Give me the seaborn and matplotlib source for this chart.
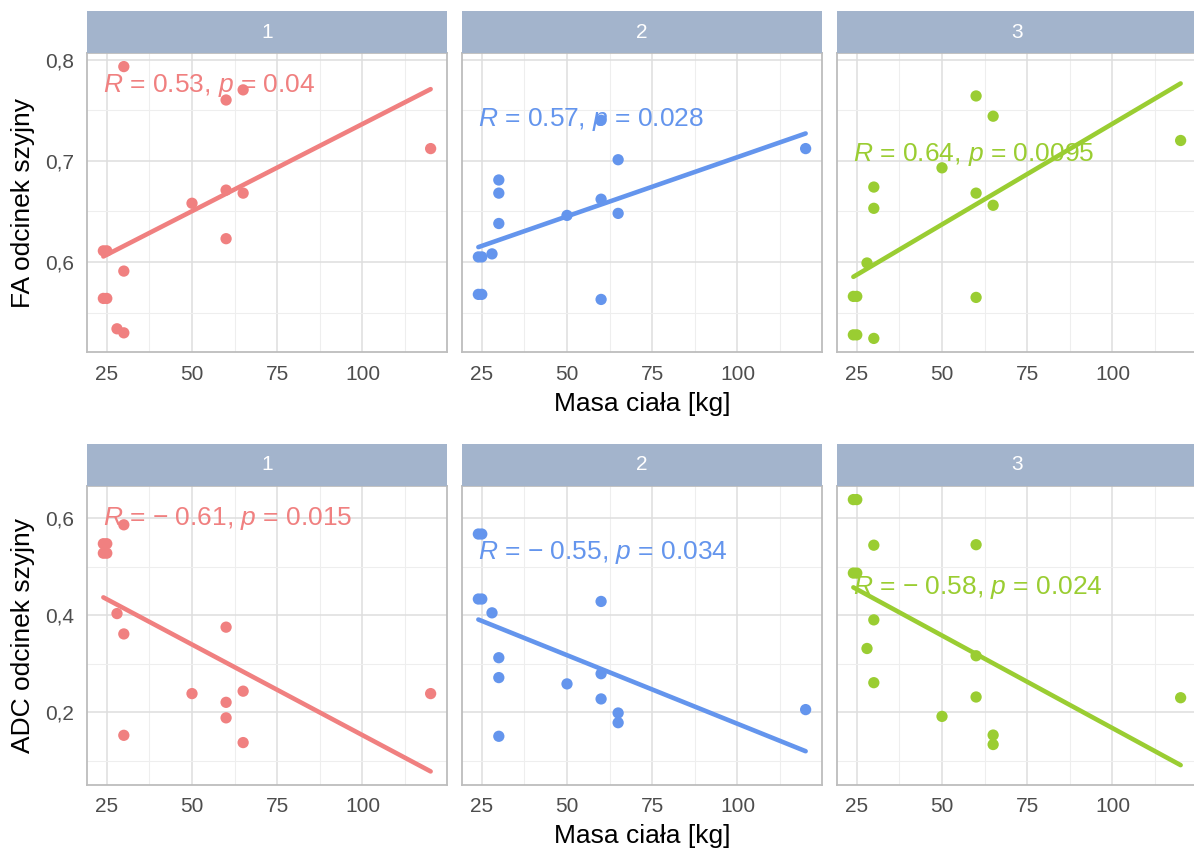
import numpy as np
import pandas as pd
import seaborn as sns
import matplotlib
matplotlib.use("Agg")
import matplotlib.pyplot as plt
from matplotlib.ticker import MultipleLocator, FuncFormatter
from matplotlib.transforms import blended_transform_factory

# body mass of the 15 subjects (same order in every panel)
mass = [24, 25, 24, 25, 28, 30, 30, 30, 50, 60, 60, 60, 65, 65, 120]
segments = ["1", "2", "3"]

fa_1 = [0.611, 0.611, 0.564, 0.564, 0.534, 0.793, 0.591, 0.530, 0.658, 0.760, 0.671, 0.623, 0.770, 0.668, 0.712]
fa_2 = [0.605, 0.605, 0.568, 0.568, 0.608, 0.681, 0.668, 0.638, 0.646, 0.740, 0.662, 0.563, 0.701, 0.648, 0.712]
fa_3 = [0.566, 0.566, 0.528, 0.528, 0.599, 0.674, 0.653, 0.5245, 0.693, 0.764, 0.668, 0.565, 0.744, 0.656, 0.720]

adc_1 = [0.547, 0.547, 0.5275, 0.5275, 0.403, 0.586, 0.361, 0.152, 0.238, 0.375, 0.220, 0.188, 0.243, 0.137, 0.238]
adc_2 = [0.567, 0.567, 0.433, 0.433, 0.4045, 0.312, 0.271, 0.150, 0.258, 0.428, 0.279, 0.227, 0.198, 0.178, 0.205]
adc_3 = [0.638, 0.638, 0.4865, 0.4865, 0.331, 0.544, 0.390, 0.2605, 0.191, 0.545, 0.316, 0.231, 0.1525, 0.133, 0.2295]

fa_r = ["0.53", "0.57", "0.64"]
fa_p = ["0.04", "0.028", "0.0095"]
adc_r = ["-0.61", "-0.55", "-0.58"]
adc_p = ["0.015", "0.034", "0.024"]

colors = ["#F08080", "#6495ED", "#9ACD32"]
strip_color = "#A3B4CC"

rows = []
for measure, series in [("FA", [fa_1, fa_2, fa_3]), ("ADC", [adc_1, adc_2, adc_3])]:
    for seg, vals in zip(segments, series):
        for m, v in zip(mass, vals):
            rows.append({"measure": measure, "segment": seg, "mass": m, "value": v})
df = pd.DataFrame(rows)

sns.set_style("white")
plt.rcParams["font.family"] = ["Liberation Sans", "DejaVu Sans"]
plt.rcParams["mathtext.fontset"] = "custom"
plt.rcParams["mathtext.it"] = "Liberation Sans:italic"
plt.rcParams["mathtext.rm"] = "Liberation Sans"

W, H = 1194, 849
fig = plt.figure(figsize=(W / 100, H / 100), dpi=100)

panel_lefts = [87, 462, 837]
panel_w = 360
panel_h = 299
strip_h = 42
label_y = [0.89, 0.776, 0.661]


def draw_row(measure, ylab, top_px, major, minor, r_vals, p_vals):
    axes = []
    for i, seg in enumerate(segments):
        rect = [panel_lefts[i] / W, 1 - (top_px + panel_h) / H, panel_w / W, panel_h / H]
        ax = fig.add_axes(rect, sharey=axes[0] if axes else None)
        sub = df[(df.measure == measure) & (df.segment == seg)]
        sns.regplot(data=sub, x="mass", y="value", scatter=False, ci=None,
                    color=colors[i], line_kws={"lw": 3.3, "zorder": 2}, ax=ax)
        sns.scatterplot(data=sub, x="mass", y="value", color=colors[i], s=66,
                        edgecolor="none", ax=ax, zorder=3)
        ax.set_xlabel("")
        ax.set_ylabel("")
        ax.xaxis.set_major_locator(MultipleLocator(25))
        ax.xaxis.set_minor_locator(MultipleLocator(12.5))
        ax.yaxis.set_major_locator(MultipleLocator(major))
        ax.yaxis.set_minor_locator(MultipleLocator(minor))
        ax.yaxis.set_major_formatter(FuncFormatter(lambda v, pos: f"{v:.1f}".replace(".", ",")))
        ax.grid(which="major", color="#DEDEDE", lw=1.1)
        ax.grid(which="minor", color="#EEEEEE", lw=0.8)
        ax.set_axisbelow(True)
        for s in ax.spines.values():
            s.set_color("#BDBDBD")
            s.set_linewidth(1.3)
        ax.tick_params(which="major", length=3, width=1, color="#BDBDBD", pad=6,
                       labelsize=15, labelcolor="#4D4D4D")
        ax.tick_params(which="minor", length=0)
        if i > 0:
            ax.tick_params(axis="y", left=False, labelleft=False)

        r = r_vals[i].replace("-", "\u2212 ")
        trans = blended_transform_factory(ax.transData, ax.transAxes)
        ax.text(min(mass), label_y[i], f"$R$ = {r}, $p$ = {p_vals[i]}", transform=trans,
                color=colors[i], fontsize=19, ha="left", va="center", zorder=4)

        sax = fig.add_axes([panel_lefts[i] / W, 1 - top_px / H, panel_w / W, strip_h / H])
        sax.set_facecolor(strip_color)
        sax.set_xticks([])
        sax.set_yticks([])
        for s in sax.spines.values():
            s.set_visible(False)
        sax.text(0.5, 0.5, seg, color="white", fontsize=15, ha="center", va="center",
                 transform=sax.transAxes)
        axes.append(ax)

    fig.text(23 / W, 1 - (top_px + panel_h / 2) / H, ylab, rotation=90, fontsize=19,
             ha="center", va="center", color="black")
    return axes


draw_row("FA", "FA odcinek szyjny", 53, 0.1, 0.05, fa_r, fa_p)
fig.text(642 / W, 1 - 411 / H, "Masa ciała [kg]", fontsize=19, ha="center", va="baseline", color="black")
draw_row("ADC", "ADC odcinek szyjny", 486, 0.2, 0.1, adc_r, adc_p)
fig.text(642 / W, 1 - 843 / H, "Masa ciała [kg]", fontsize=19, ha="center", va="baseline", color="black")

fig.savefig("out.png", dpi=100, facecolor="white")
